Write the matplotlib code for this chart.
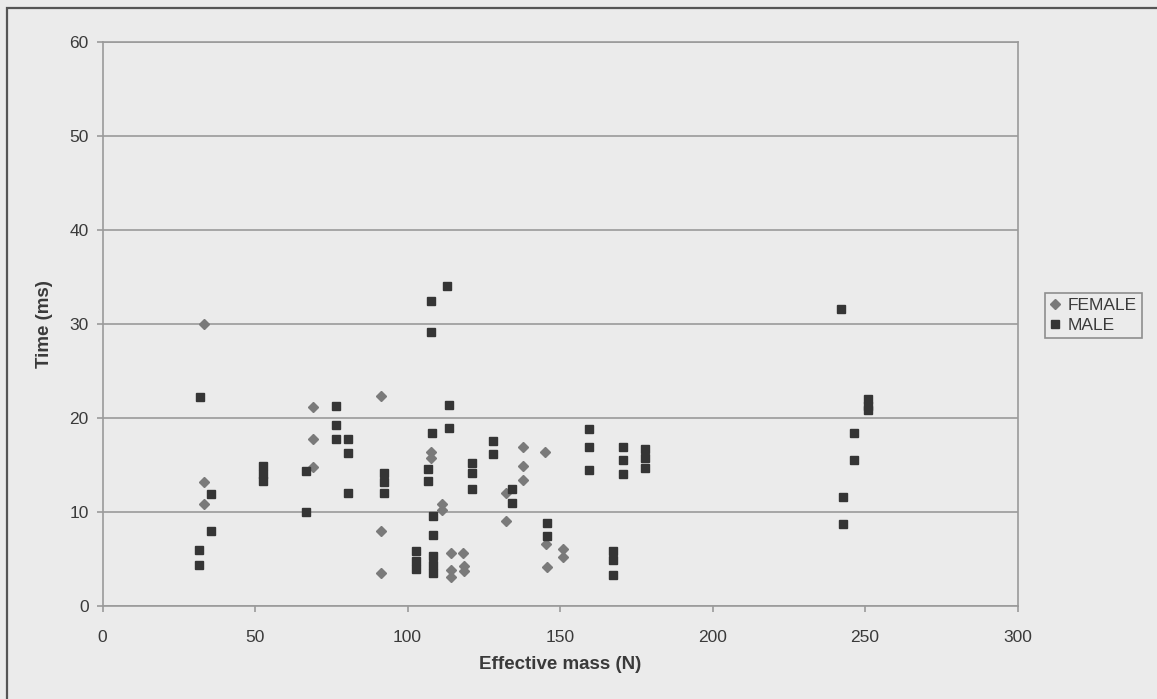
import matplotlib
matplotlib.use("Agg")
import matplotlib.pyplot as plt
from matplotlib.patches import Rectangle

plt.rcParams['font.family'] = ['Liberation Sans', 'DejaVu Sans']

# Effective mass (N) and time (ms) per subject group
female_mass = [33.4, 33.4, 33.4, 69.0, 69.0, 69.0, 91.2, 91.2, 91.2,
               107.7, 107.7, 111.4, 111.4, 114.2, 118.3, 114.2, 114.2,
               118.4, 118.4, 132.3, 132.2, 138.0, 138.0, 138.0, 145.1,
               145.3, 145.6, 150.9, 150.9]
female_time = [30.0, 13.2, 10.8, 21.2, 17.8, 14.8, 22.3, 8.0, 3.5,
               16.4, 15.7, 10.9, 10.2, 5.6, 5.6, 3.8, 3.1,
               4.3, 3.7, 12.0, 9.0, 16.9, 14.9, 13.4, 16.4,
               6.6, 4.2, 6.1, 5.2]

male_mass = [32.0, 31.7, 31.7, 35.5, 35.5, 52.7, 52.7, 52.7, 66.7, 66.7,
             76.4, 76.4, 76.4, 80.4, 80.4, 80.4, 92.2, 92.2, 92.2,
             102.8, 102.8, 102.8, 106.8, 106.8, 107.6, 107.7, 108.1,
             108.2, 108.2, 108.2, 108.2, 108.2, 113.1, 113.6, 113.6,
             121.0, 121.0, 121.0, 128.0, 128.0, 134.2, 134.2, 145.6, 145.6,
             159.5, 159.5, 159.5, 167.3, 167.3, 167.3, 170.6, 170.6, 170.6,
             177.9, 177.9, 177.9, 242.0, 242.7, 242.7, 246.5, 246.5,
             250.9, 250.9, 250.9]
male_time = [22.2, 6.0, 4.4, 11.9, 8.0, 14.9, 14.0, 13.3, 14.4, 10.0,
             21.3, 19.3, 17.8, 17.8, 16.3, 12.0, 14.1, 13.2, 12.0,
             5.8, 4.8, 3.9, 14.6, 13.3, 32.5, 29.1, 18.4,
             9.6, 7.6, 5.3, 4.4, 3.5, 34.0, 21.4, 18.9,
             15.2, 14.1, 12.5, 17.6, 16.2, 12.5, 11.0, 8.8, 7.4,
             18.8, 16.9, 14.5, 5.9, 4.9, 3.3, 16.9, 15.5, 14.0,
             16.7, 15.7, 14.7, 31.6, 11.6, 8.7, 18.4, 15.5,
             22.0, 21.3, 20.8]

x_ticks = [0, 50, 100, 150, 200, 250, 300]
y_ticks = [0, 10, 20, 30, 40, 50, 60]

bg = '#ebebeb'
grid_c = '#9a9a9a'
text_c = '#3a3a3a'

fig = plt.figure(figsize=(11.57, 6.99), dpi=100, facecolor=bg)
ax = fig.add_axes([102.5 / 1157, 1 - 606 / 699, 915 / 1157, 564 / 699])
ax.set_facecolor(bg)

# chart-area frame (runs past the right and bottom edges)
fig.patches.append(Rectangle((7 / 1157, -0.05), 1.0, 1 - 8 / 699 + 0.05,
                             transform=fig.transFigure, fill=False,
                             edgecolor='#555555', linewidth=1.6, zorder=0))

ax.set_xlim(0, 300)
ax.set_ylim(0, 60)
ax.set_xticks(x_ticks)
ax.set_yticks(y_ticks)
ax.yaxis.grid(True, color=grid_c, linewidth=1.2)
ax.set_axisbelow(True)
for s in ax.spines.values():
    s.set_color(grid_c)
    s.set_linewidth(1.2)
ax.tick_params(axis='both', colors=grid_c, length=4, width=1.2,
               labelcolor=text_c, labelsize=12.5)
ax.tick_params(axis='y', pad=6)
ax.tick_params(axis='x', pad=13)

ax.plot(female_mass, female_time, linestyle='none', marker='D',
        markersize=5.0, color='#7a7a7a', label='FEMALE', zorder=3)
ax.plot(male_mass, male_time, linestyle='none', marker='s',
        markersize=6.0, color='#353535', label='MALE', zorder=4)

ax.set_xlabel('Effective mass (N)', fontsize=13.5, fontweight='bold',
              color=text_c, labelpad=8)
ax.set_ylabel('Time (ms)', fontsize=13.5, fontweight='bold',
              color=text_c, labelpad=12)

leg = ax.legend(loc='upper left', bbox_to_anchor=(1045 / 1157, 1 - 293 / 699),
                bbox_transform=fig.transFigure, frameon=True, fancybox=False,
                fontsize=12.5, handlelength=0.6, handletextpad=0.4,
                borderpad=0.3, labelspacing=0.25, borderaxespad=0)
leg.get_frame().set_edgecolor('#777777')
leg.get_frame().set_facecolor(bg)
leg.get_frame().set_linewidth(1.2)
for t in leg.get_texts():
    t.set_color(text_c)

fig.savefig('out.png', dpi=100, facecolor=bg)
